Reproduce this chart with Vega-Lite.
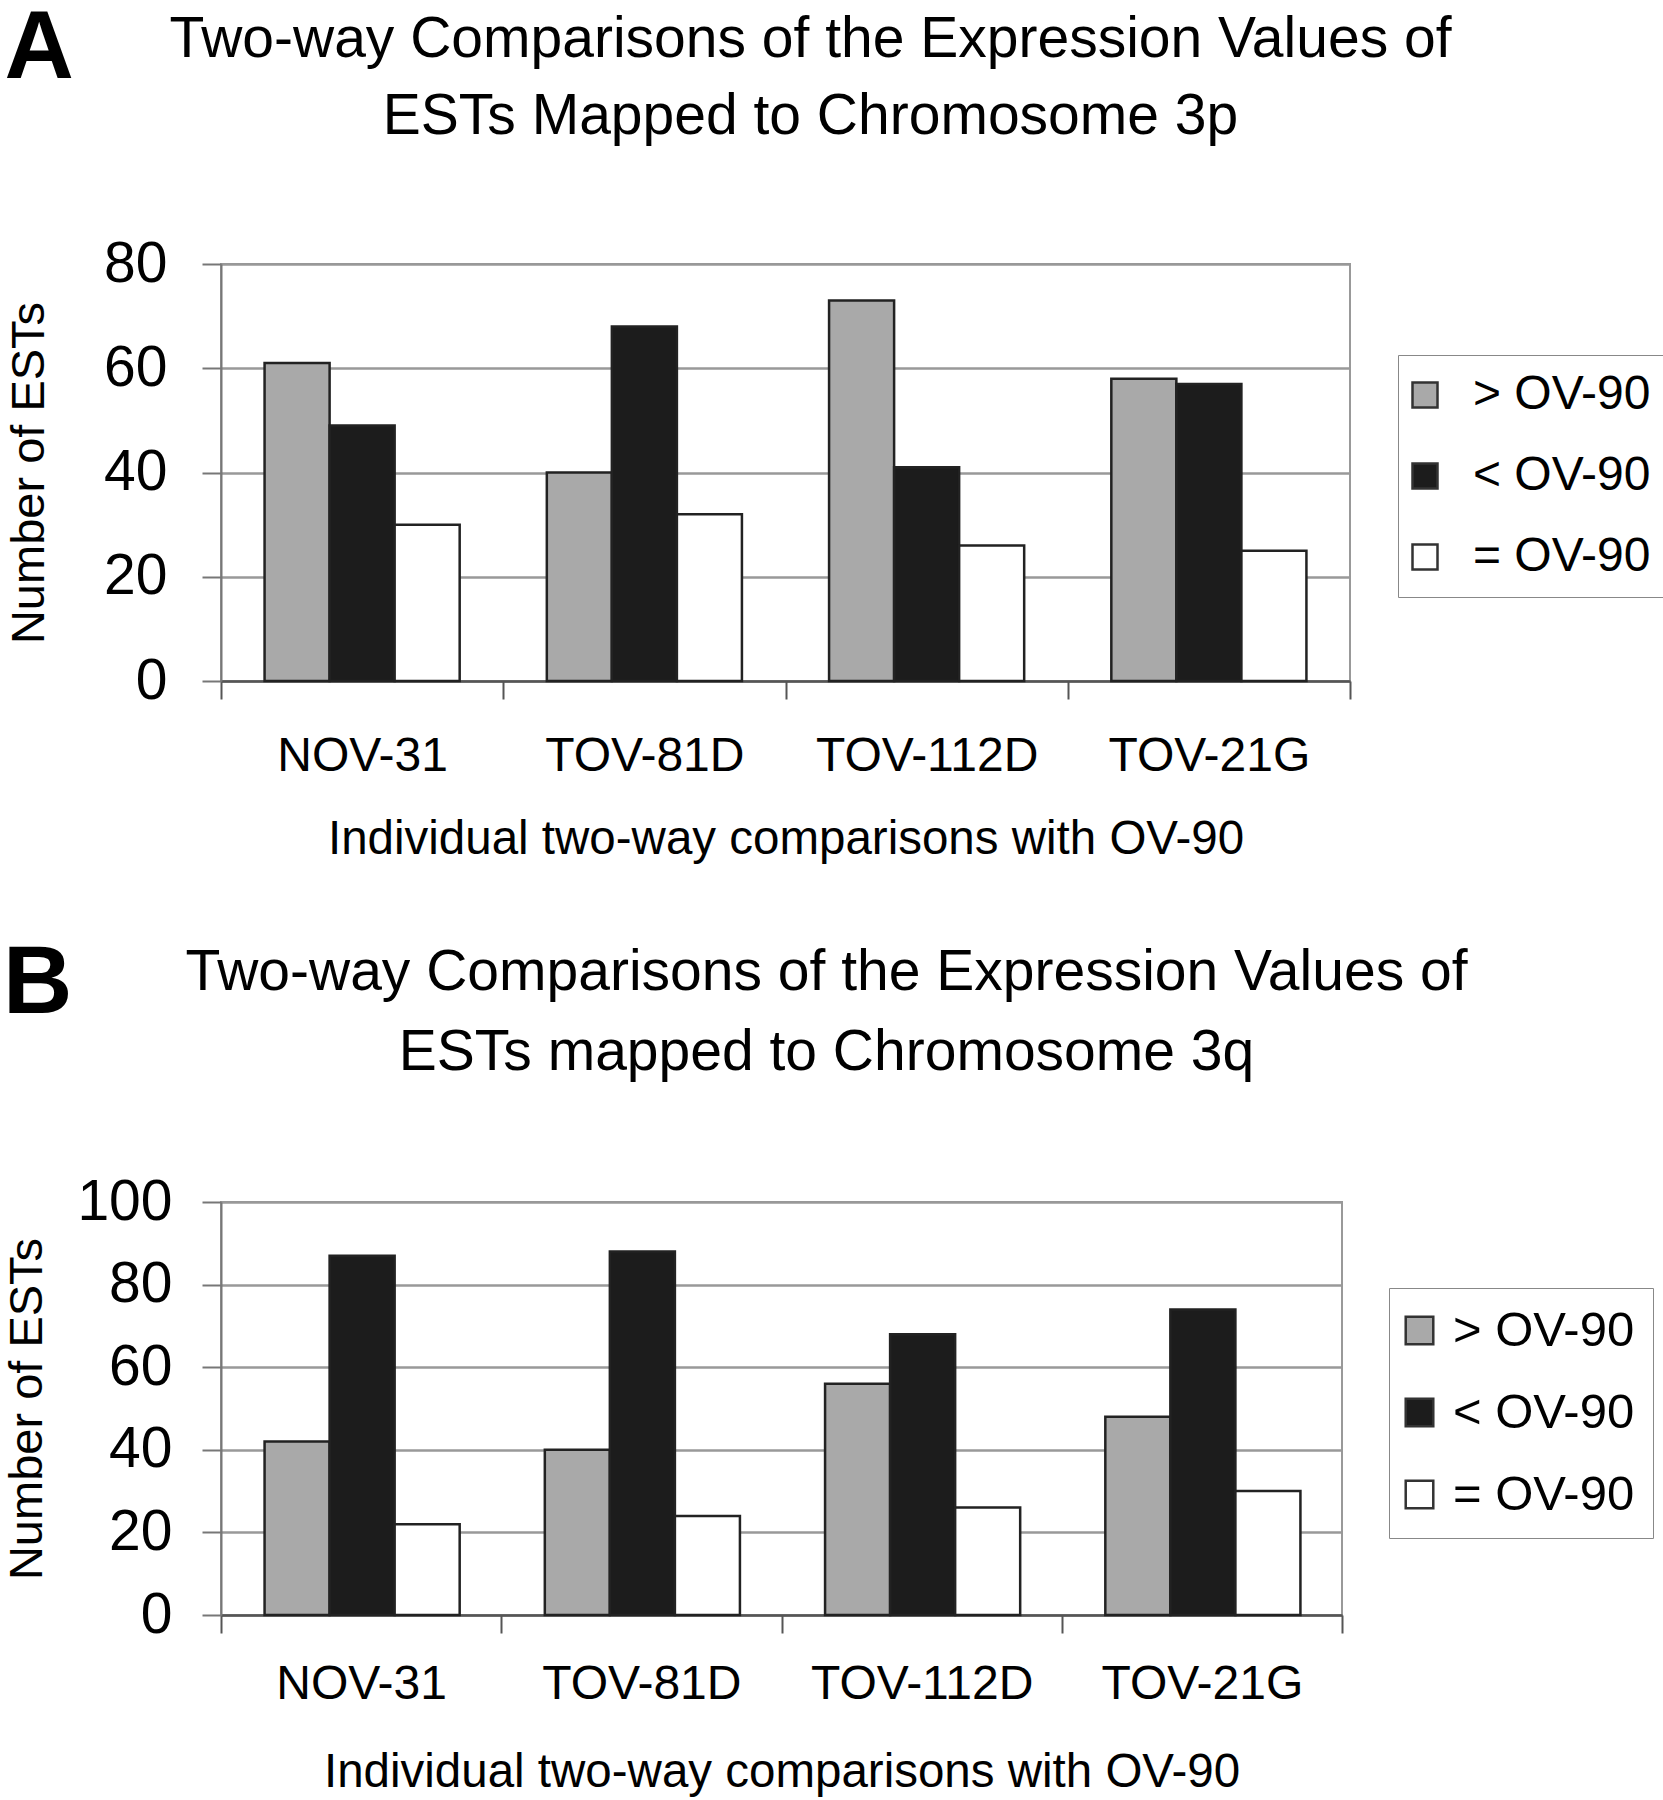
{
  "$schema": "https://vega.github.io/schema/vega-lite/v6.json",
  "background": "white",
  "padding": {"left": 2, "top": 0, "right": 0, "bottom": 0},
  "datasets": {
    "a": [
      {"line": "NOV-31", "series": "> OV-90", "count": 61},
      {"line": "NOV-31", "series": "< OV-90", "count": 49},
      {"line": "NOV-31", "series": "= OV-90", "count": 30},
      {"line": "TOV-81D", "series": "> OV-90", "count": 40},
      {"line": "TOV-81D", "series": "< OV-90", "count": 68},
      {"line": "TOV-81D", "series": "= OV-90", "count": 32},
      {"line": "TOV-112D", "series": "> OV-90", "count": 73},
      {"line": "TOV-112D", "series": "< OV-90", "count": 41},
      {"line": "TOV-112D", "series": "= OV-90", "count": 26},
      {"line": "TOV-21G", "series": "> OV-90", "count": 58},
      {"line": "TOV-21G", "series": "< OV-90", "count": 57},
      {"line": "TOV-21G", "series": "= OV-90", "count": 25}
    ],
    "b": [
      {"line": "NOV-31", "series": "> OV-90", "count": 42},
      {"line": "NOV-31", "series": "< OV-90", "count": 87},
      {"line": "NOV-31", "series": "= OV-90", "count": 22},
      {"line": "TOV-81D", "series": "> OV-90", "count": 40},
      {"line": "TOV-81D", "series": "< OV-90", "count": 88},
      {"line": "TOV-81D", "series": "= OV-90", "count": 24},
      {"line": "TOV-112D", "series": "> OV-90", "count": 56},
      {"line": "TOV-112D", "series": "< OV-90", "count": 68},
      {"line": "TOV-112D", "series": "= OV-90", "count": 26},
      {"line": "TOV-21G", "series": "> OV-90", "count": 48},
      {"line": "TOV-21G", "series": "< OV-90", "count": 74},
      {"line": "TOV-21G", "series": "= OV-90", "count": 30}
    ]
  },
  "config": {
    "font": "Liberation Sans",
    "view": {"stroke": "#999", "strokeWidth": 2},
    "axis": {
      "labelColor": "#000",
      "titleColor": "#000",
      "titleFontWeight": "normal",
      "labelFont": "Liberation Sans",
      "titleFont": "Liberation Sans",
      "labelLimit": 0
    },
    "legend": {"labelColor": "#000", "labelFont": "Liberation Sans", "labelLimit": 0}
  },
  "resolve": {"scale": {"color": "independent"}, "legend": {"color": "independent"}},
  "spacing": 72,
  "vconcat": [
    {
      "title": {"text": "A", "anchor": "start", "frame": "bounds", "fontSize": 96, "fontWeight": "bold", "color": "#000", "offset": 0, "dy": 88},
      "vconcat": [
        {
          "data": {"name": "a"},
          "title": {
            "text": ["Two-way Comparisons of the Expression Values of", "ESTs Mapped to Chromosome 3p"],
            "fontSize": 57, "fontWeight": "normal", "lineHeight": 77, "color": "#000",
            "anchor": "middle", "frame": "group", "dx": 25, "offset": 89.5
          },
          "width": 1129,
          "height": 417,
          "mark": {"type": "bar", "stroke": "#222", "strokeWidth": 2.5},
          "encoding": {
            "x": {
              "field": "line", "type": "nominal",
              "sort": ["NOV-31", "TOV-81D", "TOV-112D", "TOV-21G"],
              "scale": {"paddingInner": 0, "paddingOuter": 0},
              "axis": {
                "title": "Individual two-way comparisons with OV-90",
                "labelAngle": 0, "tickBand": "extent", "grid": false,
                "labelFontSize": 48, "titleFontSize": 47.5,
                "tickSize": 18, "labelPadding": 33, "titlePadding": 35,
                "domainColor": "#555", "tickColor": "#555", "domainWidth": 2.5, "tickWidth": 2
              }
            },
            "xOffset": {
              "field": "series", "type": "nominal",
              "sort": ["> OV-90", "< OV-90", "= OV-90"],
              "scale": {"paddingOuter": 0.67, "paddingInner": 0}
            },
            "y": {
              "field": "count", "type": "quantitative",
              "scale": {"domain": [0, 80]},
              "axis": {
                "title": "Number of ESTs", "values": [0, 20, 40, 60, 80],
                "labelFontSize": 57, "titleFontSize": 47,
                "tickSize": 19, "labelPadding": 35, "titlePadding": 50,
                "gridColor": "#999", "gridWidth": 2.5,
                "domainColor": "#777", "tickColor": "#777", "domainWidth": 2, "tickWidth": 2
              }
            },
            "color": {
              "field": "series", "type": "nominal",
              "scale": {"domain": ["> OV-90", "< OV-90", "= OV-90"], "range": ["#a9a9a9", "#1c1c1c", "#ffffff"]},
              "legend": {
                "title": null, "orient": "none", "legendX": 1177, "legendY": 91,
                "labelFontSize": 48, "symbolType": "square", "symbolSize": 625,
                "symbolStrokeColor": "#333", "symbolStrokeWidth": 2.5,
                "symbolOffset": -13, "labelOffset": 24, "rowPadding": 33, "padding": 16,
                "strokeColor": "#888", "fillColor": "#fff"
              }
            }
          }
        }
      ]
    },
    {
      "title": {"text": "B", "anchor": "start", "frame": "bounds", "fontSize": 96, "fontWeight": "bold", "color": "#000", "offset": 0, "dy": 90},
      "vconcat": [
        {
          "data": {"name": "b"},
          "title": {
            "text": ["Two-way Comparisons of the Expression Values of", "ESTs mapped to Chromosome 3q"],
            "fontSize": 57, "fontWeight": "normal", "lineHeight": 80, "color": "#000",
            "anchor": "middle", "frame": "group", "dx": 45, "offset": 91
          },
          "width": 1121,
          "height": 413,
          "mark": {"type": "bar", "stroke": "#222", "strokeWidth": 2.5},
          "encoding": {
            "x": {
              "field": "line", "type": "nominal",
              "sort": ["NOV-31", "TOV-81D", "TOV-112D", "TOV-21G"],
              "scale": {"paddingInner": 0, "paddingOuter": 0},
              "axis": {
                "title": "Individual two-way comparisons with OV-90",
                "labelAngle": 0, "tickBand": "extent", "grid": false,
                "labelFontSize": 48, "titleFontSize": 47.5,
                "tickSize": 18, "labelPadding": 27, "titlePadding": 40,
                "domainColor": "#555", "tickColor": "#555", "domainWidth": 2.5, "tickWidth": 2
              }
            },
            "xOffset": {
              "field": "series", "type": "nominal",
              "sort": ["> OV-90", "< OV-90", "= OV-90"],
              "scale": {"paddingOuter": 0.72, "paddingInner": 0}
            },
            "y": {
              "field": "count", "type": "quantitative",
              "scale": {"domain": [0, 100]},
              "axis": {
                "title": "Number of ESTs", "values": [0, 20, 40, 60, 80, 100],
                "labelFontSize": 57, "titleFontSize": 47,
                "tickSize": 19, "labelPadding": 30, "titlePadding": 25,
                "gridColor": "#999", "gridWidth": 2.5,
                "domainColor": "#777", "tickColor": "#777", "domainWidth": 2, "tickWidth": 2
              }
            },
            "color": {
              "field": "series", "type": "nominal",
              "scale": {"domain": ["> OV-90", "< OV-90", "= OV-90"], "range": ["#a9a9a9", "#1c1c1c", "#ffffff"]},
              "legend": {
                "title": null, "orient": "none", "legendX": 1168, "legendY": 86,
                "labelFontSize": 49, "symbolType": "square", "symbolSize": 760,
                "symbolStrokeColor": "#333", "symbolStrokeWidth": 2.5,
                "symbolOffset": -12, "labelOffset": 9, "rowPadding": 32, "padding": 18,
                "strokeColor": "#888", "fillColor": "#fff"
              }
            }
          }
        }
      ]
    }
  ]
}
